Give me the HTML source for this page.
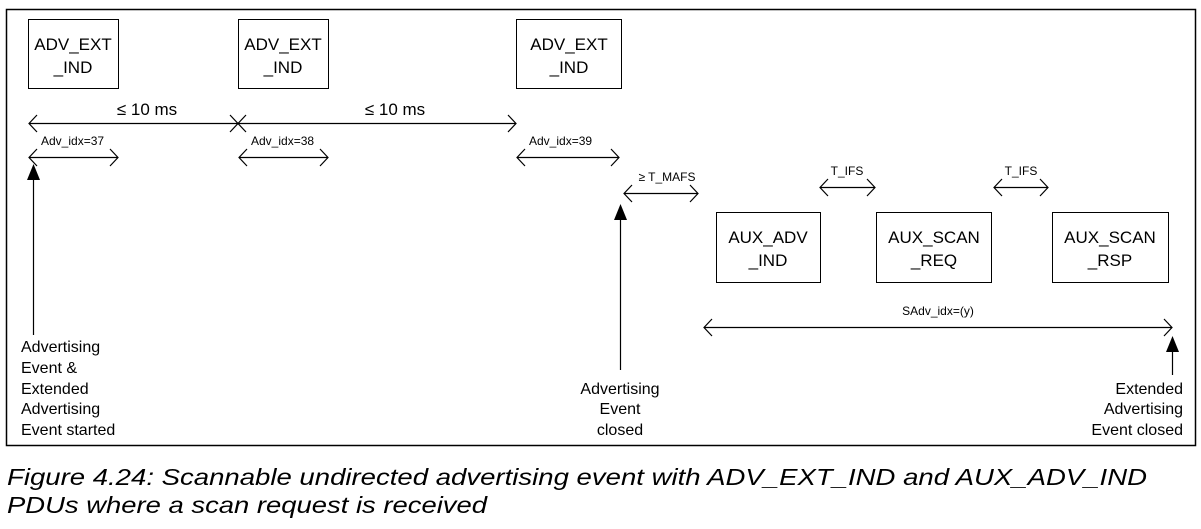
<!DOCTYPE html>
<html><head><style>
body{margin:0;background:#fff}
svg{display:block}
text{font-family:"Liberation Sans",sans-serif;fill:#000}
</style></head><body>
<svg width="1201" height="529" viewBox="0 0 1201 529" xmlns="http://www.w3.org/2000/svg">
<rect x="6.5" y="9.5" width="1189" height="436" fill="none" stroke="#000" stroke-width="1.5"/>
<g fill="none" stroke="#000" stroke-width="1">
<rect x="28.5" y="19.5" width="90" height="69"/>
<rect x="238.5" y="19.5" width="90" height="69"/>
<rect x="516.5" y="19.5" width="105" height="69"/>
<rect x="716.5" y="212.5" width="104" height="70"/>
<rect x="876.5" y="212.5" width="115" height="70"/>
<rect x="1052.5" y="212.5" width="116" height="70"/>
</g>
<g stroke="#000" stroke-width="1.2" fill="none">
<path d="M29 123.5H516M37 115l-8 8.5 8 8.5M230 115l16 17M246 115l-16 17M508 115l8 8.5-8 8.5"/>
<path d="M29 157.5H118M37 149l-8 8.5 8 8.5M110 149l8 8.5-8 8.5"/>
<path d="M239 157.5H328M247 149l-8 8.5 8 8.5M320 149l8 8.5-8 8.5"/>
<path d="M517 157.5H619M525 149l-8 8.5 8 8.5M611 149l8 8.5-8 8.5"/>
<path d="M624 193.5H698M632 185l-8 8.5 8 8.5M690 185l8 8.5-8 8.5"/>
<path d="M820 187.5H875M828 179l-8 8.5 8 8.5M867 179l8 8.5-8 8.5"/>
<path d="M994 187.5H1048M1002 179l-8 8.5 8 8.5M1040 179l8 8.5-8 8.5"/>
<path d="M704 327.5H1172M712 319l-8 8.5 8 8.5M1164 319l8 8.5-8 8.5"/>
<path d="M33.5 178V335M620.5 218V370M1172.5 350V375"/>
</g>
<g fill="#000">
<polygon points="33.5,164 27,180 40,180"/>
<polygon points="620.5,204 614,220 627,220"/>
<polygon points="1172.5,336 1166,352 1179,352"/>
</g>
<g font-size="17" text-anchor="middle">
<text x="73" y="50">ADV_EXT</text><text x="73" y="73">_IND</text>
<text x="283" y="50">ADV_EXT</text><text x="283" y="73">_IND</text>
<text x="569" y="50">ADV_EXT</text><text x="569" y="73">_IND</text>
<text x="768" y="243">AUX_ADV</text><text x="768" y="266">_IND</text>
<text x="934" y="243">AUX_SCAN</text><text x="934" y="266">_REQ</text>
<text x="1110" y="243">AUX_SCAN</text><text x="1110" y="266">_RSP</text>
<text x="147" y="115">≤ 10 ms</text>
<text x="395" y="115">≤ 10 ms</text>
</g>
<g font-size="12">
<text x="41" y="145">Adv_idx=37</text>
<text x="251" y="145">Adv_idx=38</text>
<text x="529" y="145">Adv_idx=39</text>
</g>
<g font-size="12" text-anchor="middle">
<text x="667" y="181">≥ T_MAFS</text>
<text x="847" y="175">T_IFS</text>
<text x="1021" y="175">T_IFS</text>
<text x="938" y="315">SAdv_idx=(y)</text>
</g>
<g font-size="16">
<text x="21" y="352">Advertising</text>
<text x="21" y="373">Event &amp;</text>
<text x="21" y="394">Extended</text>
<text x="21" y="414">Advertising</text>
<text x="21" y="435">Event started</text>
</g>
<g font-size="16" text-anchor="middle">
<text x="620" y="394">Advertising</text>
<text x="620" y="414">Event</text>
<text x="620" y="435">closed</text>
</g>
<g font-size="16" text-anchor="end">
<text x="1183" y="394">Extended</text>
<text x="1183" y="414">Advertising</text>
<text x="1183" y="435">Event closed</text>
</g>
<g font-size="23" font-style="italic">
<text x="7" y="485" textLength="1140" lengthAdjust="spacingAndGlyphs">Figure 4.24:  Scannable undirected advertising event with ADV_EXT_IND and AUX_ADV_IND</text>
<text x="7" y="513" textLength="480" lengthAdjust="spacingAndGlyphs">PDUs where a scan request is received</text>
</g>
</svg>
</body></html>
